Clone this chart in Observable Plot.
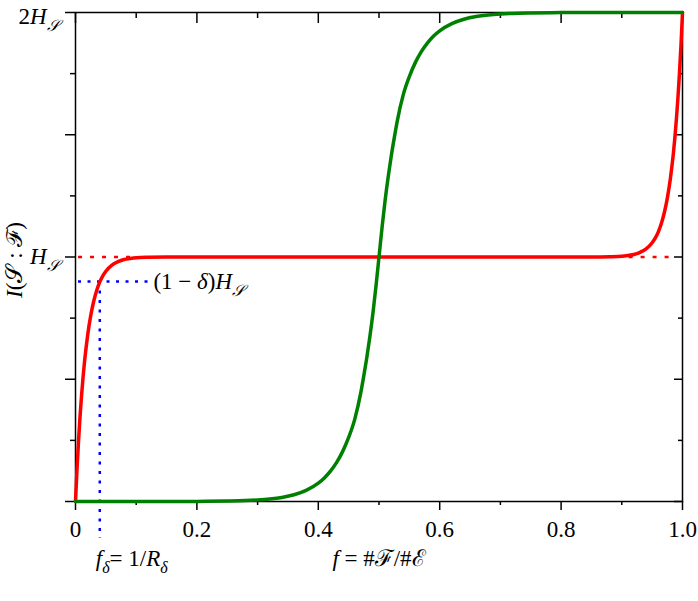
<!DOCTYPE html>
<html><head><meta charset="utf-8">
<script src="https://cdn.jsdelivr.net/npm/d3@7"></script>
<script src="https://cdn.jsdelivr.net/npm/@observablehq/plot@0.6"></script>
<style>
html,body{margin:0;padding:0;background:#fff}
#chart svg text{font-family:"Liberation Serif","DejaVu Serif",serif;font-size:23px;}
</style>
</head><body><div id="chart"></div>
<script>
// Red curve: I(S:F) in units of H_S vs f
const redF = [0, 0.0025, 0.005, 0.0075, 0.01, 0.0125, 0.015, 0.0175, 0.02, 0.025, 0.03, 0.035, 0.04, 0.045, 0.05, 0.06, 0.07, 0.08, 0.09, 0.1, 0.12, 0.15, 0.2, 0.3, 0.5, 0.7, 0.8, 0.85, 0.88, 0.9, 0.91, 0.92, 0.93, 0.94, 0.95, 0.955, 0.96, 0.965, 0.97, 0.975, 0.98, 0.9825, 0.985, 0.9875, 0.99, 0.9925, 0.995, 0.9975, 1];
const redI = [0, 0.133, 0.248, 0.348, 0.434, 0.51, 0.575, 0.63, 0.68, 0.759, 0.819, 0.864, 0.898, 0.923, 0.942, 0.967, 0.981, 0.99, 0.994, 0.997, 0.999, 1, 1, 1, 1, 1, 1, 1, 1.001, 1.003, 1.006, 1.01, 1.019, 1.033, 1.058, 1.077, 1.102, 1.136, 1.181, 1.241, 1.32, 1.37, 1.425, 1.49, 1.566, 1.652, 1.752, 1.867, 2];
// Green curve
const greenF = [0, 0.1, 0.15, 0.2, 0.25, 0.28, 0.3, 0.32, 0.34, 0.36, 0.38, 0.4, 0.41, 0.42, 0.43, 0.44, 0.45, 0.46, 0.47, 0.475, 0.48, 0.485, 0.49, 0.495, 0.5, 0.505, 0.51, 0.515, 0.52, 0.525, 0.53, 0.54, 0.55, 0.56, 0.57, 0.58, 0.59, 0.6, 0.62, 0.64, 0.66, 0.68, 0.7, 0.72, 0.75, 0.8, 0.85, 0.9, 1];
const greenI = [0, 0, 0.0002, 0.0005, 0.0018, 0.0037, 0.0062, 0.0102, 0.0167, 0.0276, 0.0455, 0.075, 0.0963, 0.124, 0.159, 0.204, 0.262, 0.336, 0.445, 0.515, 0.59, 0.675, 0.77, 0.88, 1, 1.12, 1.23, 1.325, 1.41, 1.485, 1.555, 1.664, 1.738, 1.796, 1.841, 1.876, 1.9037, 1.925, 1.9545, 1.9724, 1.9833, 1.9898, 1.9938, 1.9963, 1.9982, 1.9995, 1.9998, 2, 2];

const xMajor = [0, 0.2, 0.4, 0.6, 0.8, 1.0];
const xTickLabels = ["0", "0.2", "0.4", "0.6", "0.8", "1.0"];
const xMinor = [0.1, 0.3, 0.5, 0.7, 0.9];
const yMajor = [0, 0.5, 1, 1.5, 2];
const yMinor = [0.25, 0.75, 1.25, 1.75];
const yLabelValues = [2, 1];
const yLabelParts = [[["2","r"],["H","i"],["𝒮","sub"]], [["H","i"],["𝒮","sub"]]];
const yTitleParts = [["I","i"],["(","r"],["𝒮","r"],[" : ","r"],["ℱ","r"],[")","r"]];
const fDelta = 0.04, levelDelta = 0.9, deltaGuideEnd = 0.125;
const deltaLabelParts = [["(1 − ","r"],["δ","i"],[")","r"],["H","i"],["𝒮","sub"]];
const fDeltaLabelParts = [["f","i"],["δ","sub"],["= 1/","r"],["R","i"],["δ","sub"]];
const fLabelParts = [["f","i"],[" = #","r"],["ℱ","r"],["/#","r"],["ℰ","r"]];
const redGuideX1 = [0.005, 0.912], redGuideX2 = [0.1, 0.985];

const red = "#ff0000", green = "#008000", blue = "#0000ff";
const redData = redF.map((f, i) => ({f, v: redI[i]}));
const greenData = greenF.map((f, i) => ({f, v: greenI[i]}));
const plain = p => p.map(d => d[0]).join("");
const font = {fontFamily: "Liberation Serif", fontSize: 23};

const plot = Plot.plot({
  width: 698, height: 601,
  marginLeft: 75, marginRight: 16, marginTop: 12, marginBottom: 100,
  x: {domain: [0, 1]},
  y: {domain: [0, 2]},
  style: {background: "#fff", color: "#000"},
  marks: [
    Plot.ruleY([0, 1], {x1: i => redGuideX1[i], x2: i => redGuideX2[i], y: () => 1, stroke: red, strokeWidth: 2.5, strokeDasharray: "4,8"}),
    Plot.ruleY([levelDelta], {x1: 0.005, x2: deltaGuideEnd, stroke: blue, strokeWidth: 2.5, strokeDasharray: "3,6.5"}),
    Plot.ruleX([fDelta], {y1: levelDelta, y2: 0, insetBottom: -37, stroke: blue, strokeWidth: 2.5, strokeDasharray: "3,6.5"}),
    Plot.frame({stroke: "#000", strokeWidth: 1.5}),
    Plot.axisX({anchor: "bottom", ticks: xMajor, tickSize: 9, tickPadding: 10, strokeWidth: 1.5, label: null, ...font, tickFormat: d => xTickLabels[xMajor.indexOf(d)]}),
    Plot.axisX({anchor: "bottom", ticks: xMinor, tickSize: 4, strokeWidth: 1.5, label: null, tickFormat: () => ""}),
    Plot.axisX({anchor: "top", ticks: xMajor, tickSize: -10, strokeWidth: 1.5, label: null, tickFormat: () => ""}),
    Plot.axisX({anchor: "top", ticks: xMinor, tickSize: -5, strokeWidth: 1.5, label: null, tickFormat: () => ""}),
    Plot.axisY({anchor: "left", ticks: yMajor, tickSize: 10, strokeWidth: 1.5, label: null, tickFormat: () => ""}),
    Plot.axisY({anchor: "left", ticks: yMinor, tickSize: 5, strokeWidth: 1.5, label: null, tickFormat: () => ""}),
    Plot.axisY({anchor: "right", ticks: yMajor, tickSize: -9, strokeWidth: 1.5, label: null, tickFormat: () => ""}),
    Plot.axisY({anchor: "right", ticks: yMinor, tickSize: -5, strokeWidth: 1.5, label: null, tickFormat: () => ""}),
    Plot.line(redData, {x: "f", y: "v", stroke: red, strokeWidth: 3.5, curve: "monotone-x"}),
    Plot.line(greenData, {x: "f", y: "v", stroke: green, strokeWidth: 3.5, curve: "monotone-x"}),
    Plot.text([yLabelValues[0]], {y: d => d, frameAnchor: "left", dx: -17, dy: 4, textAnchor: "end", lineAnchor: "middle", ...font, text: () => plain(yLabelParts[0]), className: "rich-y0"}),
    Plot.text([yLabelValues[1]], {y: d => d, frameAnchor: "left", dx: -17, textAnchor: "end", lineAnchor: "middle", ...font, text: () => plain(yLabelParts[1]), className: "rich-y1"}),
    Plot.text([1], {y: d => d, frameAnchor: "left", dx: -61, dy: 3, rotate: -90, textAnchor: "middle", lineAnchor: "middle", ...font, text: () => plain(yTitleParts), className: "rich-title"}),
    Plot.text([levelDelta], {x: deltaGuideEnd, y: d => d, dx: 2, textAnchor: "start", lineAnchor: "middle", ...font, text: () => plain(deltaLabelParts), className: "rich-delta"}),
    Plot.text([fDelta], {x: d => d, frameAnchor: "bottom", dx: -4, dy: 57, textAnchor: "start", lineAnchor: "middle", ...font, text: () => plain(fDeltaLabelParts), className: "rich-fdelta"}),
    Plot.text([0.5], {x: d => d, frameAnchor: "bottom", dy: 57, textAnchor: "middle", lineAnchor: "middle", ...font, text: () => plain(fLabelParts), className: "rich-f"})
  ]
});
document.getElementById("chart").appendChild(plot);

function rich(el, parts) {
  const t = d3.select(el);
  t.text(null);
  let shifted = false;
  parts.forEach(([s, k]) => {
    const ts = t.append("tspan").text(s);
    if (k === "i") ts.attr("font-style", "italic");
    if (k === "sub") {
      ts.attr("font-style", "italic").attr("font-size", "16px");
      if (!shifted) ts.attr("dy", 7);
      shifted = true;
    } else if (shifted) {
      ts.attr("dy", -7);
      shifted = false;
    }
  });
}
const svg = d3.select(plot);
const richMap = [["rich-y0", yLabelParts[0]], ["rich-y1", yLabelParts[1]], ["rich-title", yTitleParts], ["rich-delta", deltaLabelParts], ["rich-fdelta", fDeltaLabelParts], ["rich-f", fLabelParts]];
richMap.forEach(([cls, parts]) => svg.selectAll("." + cls + " text").each(function() { rich(this, parts); }));
</script>
</body></html>
